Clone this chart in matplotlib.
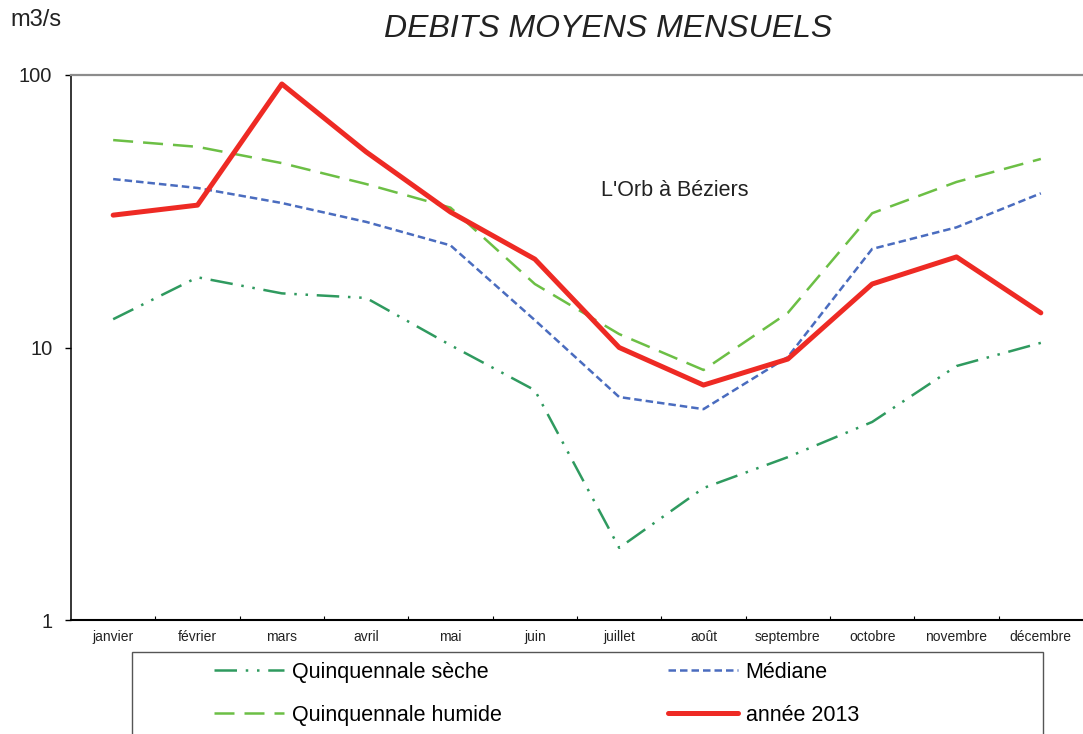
"""
Débits moyens mensuels - L'Orb à Béziers (année 2013 vs quinquennales)
"""

import matplotlib
matplotlib.use("Agg")
import matplotlib.pyplot as plt
from matplotlib.patches import Rectangle
from matplotlib.ticker import FixedLocator, NullFormatter, NullLocator

plt.rcParams["font.family"] = ["Liberation Sans", "DejaVu Sans"]

mois = ["janvier", "février", "mars", "avril", "mai", "juin", "juillet",
        "août", "septembre", "octobre", "novembre", "décembre"]

seche = [12.7, 18.1, 15.8, 15.2, 10.2, 6.97, 1.84, 3.05, 3.96, 5.33, 8.55, 10.4]
mediane = [41.5, 38.5, 33.9, 28.9, 23.7, 12.6, 6.58, 5.94, 9.23, 23.0, 27.6, 36.8]
humide = [57.7, 54.5, 47.5, 39.8, 32.6, 17.1, 11.2, 8.27, 13.4, 31.1, 40.5, 49.2]
annee_2013 = [30.6, 33.3, 92.7, 52.2, 31.4, 21.1, 10.0, 7.28, 9.07, 17.1, 21.5, 13.4]

W, H = 1083, 734
fig = plt.figure(figsize=(W / 100, H / 100), dpi=100)
ax = fig.add_axes([71 / W, 1 - 620 / H, 1 - 71 / W, (620 - 75) / H])

x = list(range(len(mois)))
l1, = ax.plot(x, seche, color="#2f9a5f", lw=1.8, ls=(0, (9, 3.5, 1, 3.5, 1, 3.5)),
              label="Quinquennale sèche")
l2, = ax.plot(x, humide, color="#6cbf45", lw=1.8, ls=(0, (8, 4)),
              label="Quinquennale humide")
l3, = ax.plot(x, mediane, color="#4a6cbf", lw=1.8, ls=(0, (3, 1.6)),
              label="Médiane")
l4, = ax.plot(x, annee_2013, color="#ee2a24", lw=3.6, solid_capstyle="round",
              label="année 2013")

ax.set_yscale("log")
ax.set_ylim(1, 100)
ax.set_xlim(-0.5, 11.5)
ax.yaxis.set_major_locator(FixedLocator([1, 10, 100]))
ax.yaxis.set_minor_locator(NullLocator())
ax.yaxis.set_minor_formatter(NullFormatter())
ax.set_yticklabels(["1", "10", "100"], fontsize=14.5, color="#222222")
ax.tick_params(axis="y", direction="out", length=4.5, width=1, pad=9)

ax.set_xticks(x)
ax.set_xticklabels(mois, fontsize=10, color="#222222")
ax.set_xticks([i + 0.5 for i in range(11)], minor=True)
ax.tick_params(axis="x", which="major", length=0, pad=7)
ax.tick_params(axis="x", which="minor", direction="in", length=3, width=0.8)

ax.spines["right"].set_visible(False)
ax.spines["top"].set_color("#8c8c8c")
ax.spines["top"].set_linewidth(1.6)
ax.spines["left"].set_linewidth(1.1)
ax.spines["bottom"].set_linewidth(1.5)

fig.text(10 / W, 1 - 20 / H, "m3/s", fontsize=17, va="center", ha="left",
         color="#222222")
fig.text(608 / W, 1 - 29 / H, "DEBITS MOYENS MENSUELS", fontsize=23,
         style="italic", ha="center", va="center", color="#222222")
fig.text(675 / W, 1 - 191 / H, "L'Orb à Béziers", fontsize=15.5,
         ha="center", va="center", color="#222222")

fig.patches.append(Rectangle((132 / W, -0.05), (1043 - 132) / W, 1 - 652 / H + 0.05,
                             transform=fig.transFigure, fill=False,
                             edgecolor="#555555", lw=1))
fig.legend(handles=[l1, l2, l3, l4], loc="upper left", ncol=2,
           bbox_to_anchor=(214 / W, 1 - 662 / H), frameon=False, borderpad=0,
           fontsize=15.5, handlelength=3.25, handletextpad=0.37,
           columnspacing=7.7, labelspacing=1.0, borderaxespad=0)

fig.savefig("out.png", dpi=100)
